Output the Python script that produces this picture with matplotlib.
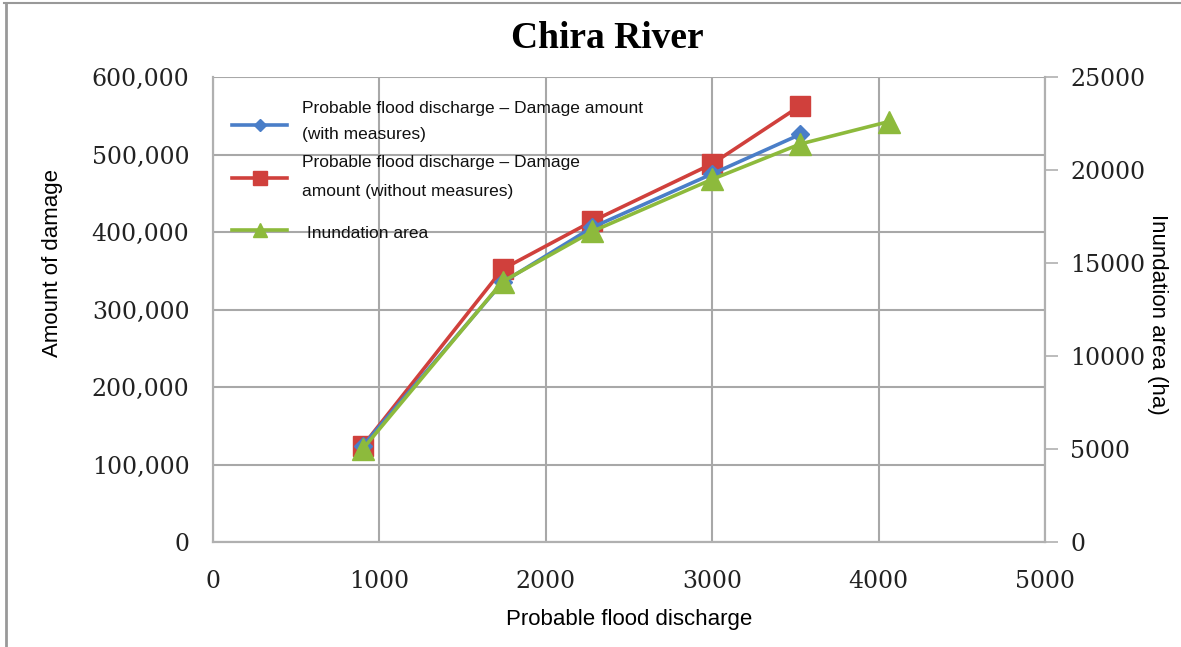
import matplotlib
matplotlib.use('Agg')
import matplotlib.pyplot as plt
from matplotlib.lines import Line2D
from matplotlib.ticker import FuncFormatter

# Données
discharge = [900, 1740, 2280, 3000, 3530]
damage_with = [124000, 335000, 406000, 475000, 526000]
damage_without = [124000, 352000, 414000, 488000, 563000]
discharge_area = [900, 1740, 2280, 3000, 3530, 4060]
inundation = [5000, 14000, 16700, 19500, 21400, 22600]

x_ticks = [0, 1000, 2000, 3000, 4000, 5000]
left_ticks = [0, 100000, 200000, 300000, 400000, 500000, 600000]
right_ticks = [0, 5000, 10000, 15000, 20000, 25000]

blue = '#4A7EC8'
red = '#D0403C'
green = '#8DBA3C'
grid_c = '#A8A8A8'
serif = 'DejaVu Serif'
sans = 'Liberation Sans'

W, H = 1181, 647
fig = plt.figure(figsize=(W/100, H/100), dpi=100)
ax = fig.add_axes([213/W, 1-542/H, (1045-213)/W, (542-77)/H])
ax2 = ax.twinx()

ax.set_xlim(0, 5000)
ax.set_ylim(0, 600000)
ax2.set_ylim(0, 25000)

ax.set_xticks(x_ticks)
ax.set_yticks(left_ticks)
ax2.set_yticks(right_ticks)
ax.yaxis.set_major_formatter(FuncFormatter(lambda v, p: '{:,.0f}'.format(v)))

ax.grid(True, color=grid_c, linewidth=1.5)
ax.set_axisbelow(True)
for a in (ax, ax2):
    for s in a.spines.values():
        s.set_color('#B0B0B0')
        s.set_linewidth(1.5)
    a.spines['top'].set_visible(False)
ax.tick_params(axis='x', length=0, labelsize=17, pad=20, labelcolor='#222222')
ax.tick_params(axis='y', length=0, labelsize=17, pad=17, labelcolor='#222222')
ax2.tick_params(axis='y', length=9, width=1.2, color='#B0B0B0', labelsize=17, pad=9, labelcolor='#222222')
for lab in ax.get_xticklabels() + ax.get_yticklabels() + ax2.get_yticklabels():
    lab.set_fontfamily(serif)

ax.plot(discharge, damage_with, color=blue, lw=2.6, marker='D', ms=9, zorder=3)
ax.plot(discharge, damage_without, color=red, lw=2.6, marker='s', ms=15, zorder=2)
ax2.plot(discharge_area, inundation, color=green, lw=2.6, marker='^', ms=16, zorder=3)

ax.set_xlabel('Probable flood discharge', fontsize=16, family=sans, labelpad=12)
ax.set_ylabel('Amount of damage', fontsize=16, family=sans)
ax.yaxis.set_label_coords(-0.180, 0.60)
ax2.set_ylabel('Inundation area (ha)', fontsize=16, family=sans, rotation=-90)
ax2.yaxis.set_label_coords(1.148, 0.49)
fig.text(0.514, 0.94, 'Chira River', ha='center', va='center', fontsize=27,
         fontweight='bold', family='Liberation Serif')

# légende dessinée à la main (positions en pixels de la figure)
def fx(px):
    return px / W

def fy(py):
    return 1 - py / H

leg_items = [
    (blue, 'D', 6, 125, ['Probable flood discharge \u2013 Damage amount', '(with measures)'], [108, 135]),
    (red, 's', 10, 178, ['Probable flood discharge \u2013 Damage', 'amount (without measures)'], [163, 192]),
    (green, '^', 10, 230, [' Inundation area'], [233]),
]
for col, mk, ms, hy, lines, ys in leg_items:
    fig.add_artist(Line2D([fx(232), fx(287)], [fy(hy), fy(hy)], transform=fig.transFigure,
                          color=col, lw=2.6))
    fig.add_artist(Line2D([fx(259.5)], [fy(hy)], transform=fig.transFigure, color=col,
                          marker=mk, ms=ms, lw=0))
    for txt, ty in zip(lines, ys):
        fig.text(fx(302), fy(ty), txt, ha='left', va='center', fontsize=12.5,
                 family=sans, color='#111111')

# cadre de la figure
fig.add_artist(Line2D([4/W, 1], [1-3/H, 1-3/H], transform=fig.transFigure, color='#999999', lw=1.5))
fig.add_artist(Line2D([6/W, 6/W], [0, 1-3/H], transform=fig.transFigure, color='#999999', lw=2))

fig.savefig('out.png', dpi=100)
